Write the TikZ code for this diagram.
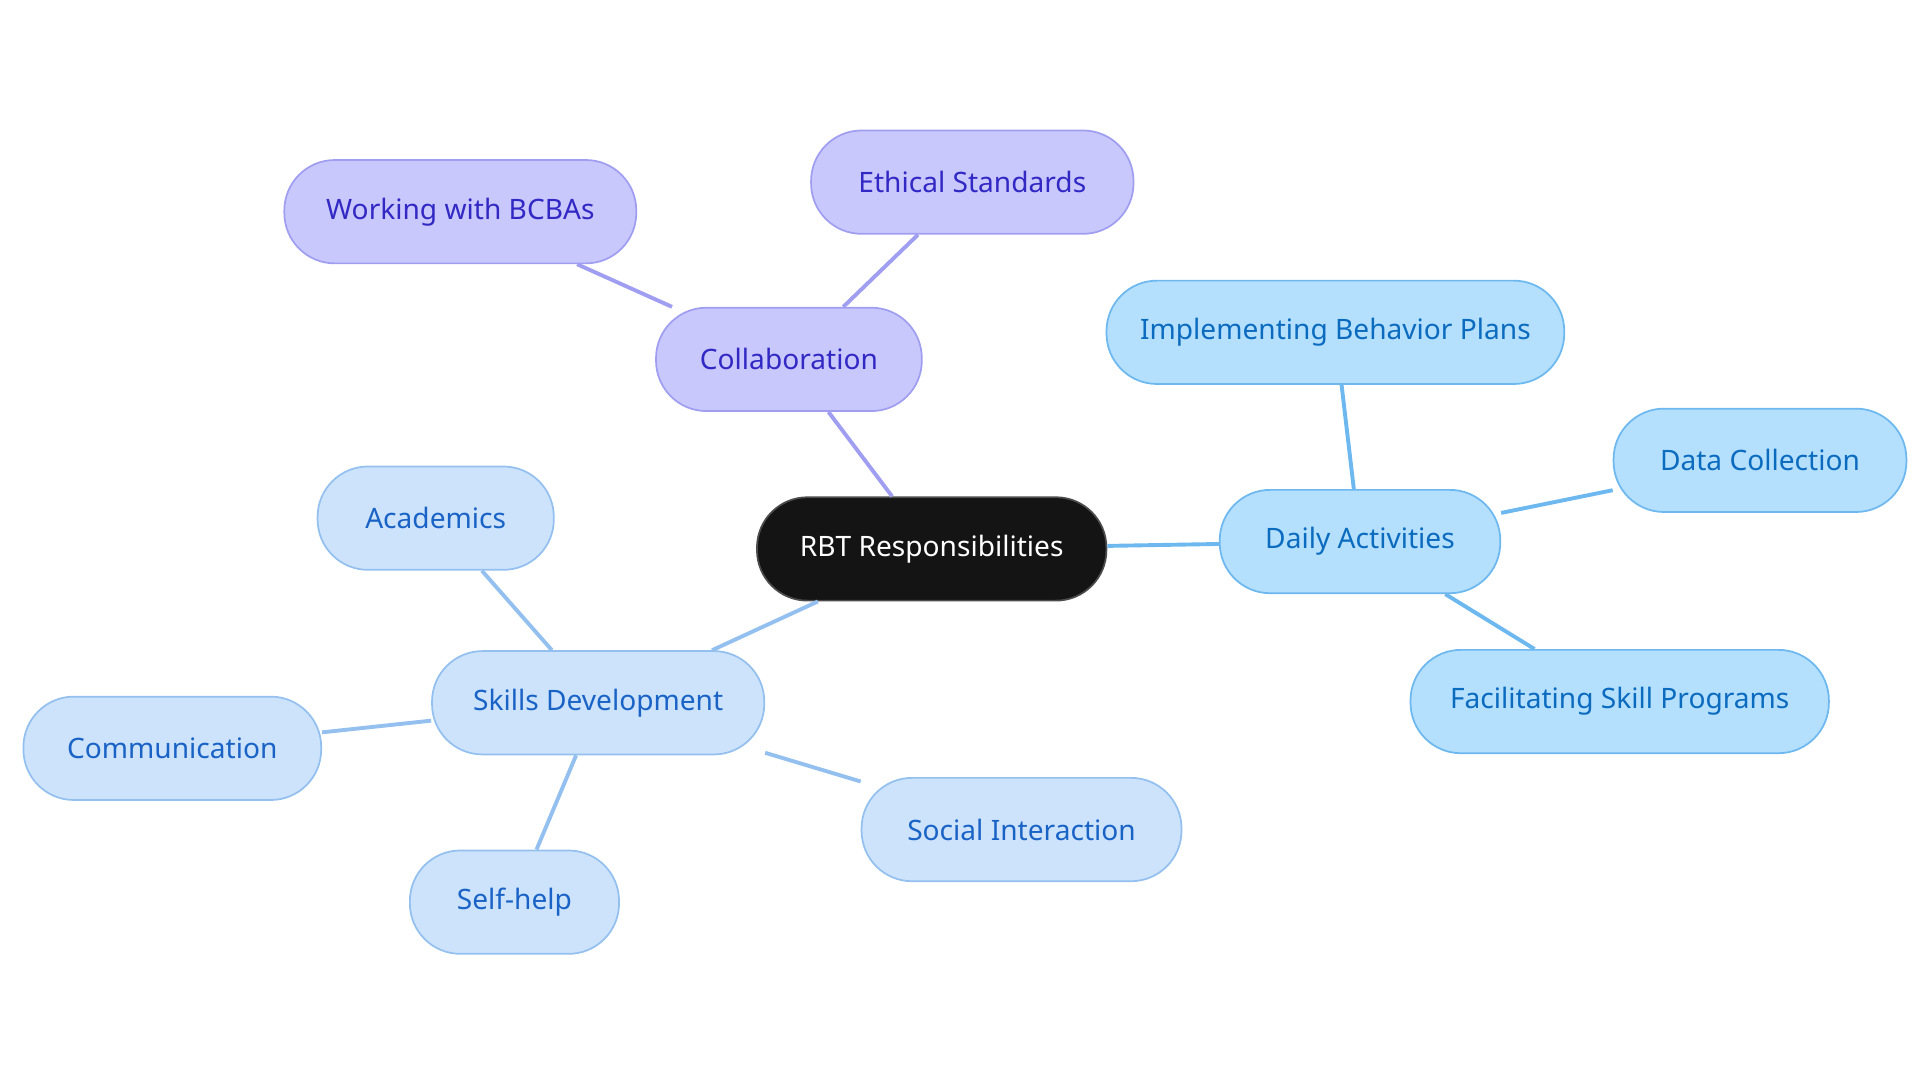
\documentclass[tikz,border=0pt]{standalone}
\usepackage{fontspec}
\setmainfont{Noto Sans}
\definecolor{pf}{HTML}{C9C8FD}\definecolor{ps}{HTML}{A09EF0}\definecolor{pt}{HTML}{3228C4}
\definecolor{bf}{HTML}{B4DFFD}\definecolor{bs}{HTML}{6CB8EF}\definecolor{bt}{HTML}{0B6BBF}
\definecolor{lf}{HTML}{CDE3FB}\definecolor{ls}{HTML}{94C0EF}\definecolor{lt}{HTML}{1A63C6}
\begin{document}
\begin{tikzpicture}[x=0.02cm,y=-0.02cm,
 box/.style={rounded corners=0.82cm,minimum height=1.68cm,font=\fontsize{13}{15}\selectfont,line width=0.8pt,inner sep=0pt},
 pbox/.style={box,fill=pf,draw=ps,text=pt},
 bbox/.style={box,fill=bf,draw=bs,text=bt},
 lbox/.style={box,fill=lf,draw=ls,text=lt},
 pl/.style={draw=ps,line width=1.8pt},
 bl/.style={draw=bs,line width=1.8pt},
 ll/.style={draw=ls,line width=1.8pt}]
\useasboundingbox (0,0) rectangle (1560,880);
\node[box,fill=black!90!blue!60!black,fill=black!92,draw=black!70,text=white,minimum width=5.68cm] (r) at (757,446) {RBT Responsibilities};
\node[pbox,minimum width=4.32cm] (c) at (641,292) {Collaboration};
\node[pbox,minimum width=5.72cm] (w) at (374,172) {Working with BCBAs};
\node[pbox,minimum width=5.24cm] (e) at (790,148) {Ethical Standards};
\node[bbox,minimum width=4.56cm] (d) at (1105,440) {Daily Activities};
\node[bbox,minimum width=7.44cm] (i) at (1085,270) {Implementing Behavior Plans};
\node[bbox,minimum width=4.76cm] (dc) at (1430,374) {Data Collection};
\node[bbox,minimum width=6.8cm] (f) at (1316,570) {Facilitating Skill Programs};
\node[lbox,minimum width=5.4cm] (s) at (486,571) {Skills Development};
\node[lbox,minimum width=3.84cm] (a) at (354,421) {Academics};
\node[lbox,minimum width=4.84cm] (cm) at (140,608) {Communication};
\node[lbox,minimum width=3.4cm] (sh) at (418,733) {Self-help};
\node[lbox,minimum width=5.2cm] (si) at (830,674) {Social Interaction};
\begin{scope}[on background layer/.style={}]
\end{scope}
\draw[pl] (r) -- (c); \draw[pl] (c) -- (w); \draw[pl] (c) -- (e);
\draw[bl] (r) -- (d); \draw[bl] (d) -- (i); \draw[bl] (d) -- (dc); \draw[bl] (d) -- (f);
\draw[ll] (r) -- (s); \draw[ll] (s) -- (a); \draw[ll] (s) -- (cm); \draw[ll] (s) -- (sh); \draw[ll] (s) -- (si);
\end{tikzpicture}
\end{document}
